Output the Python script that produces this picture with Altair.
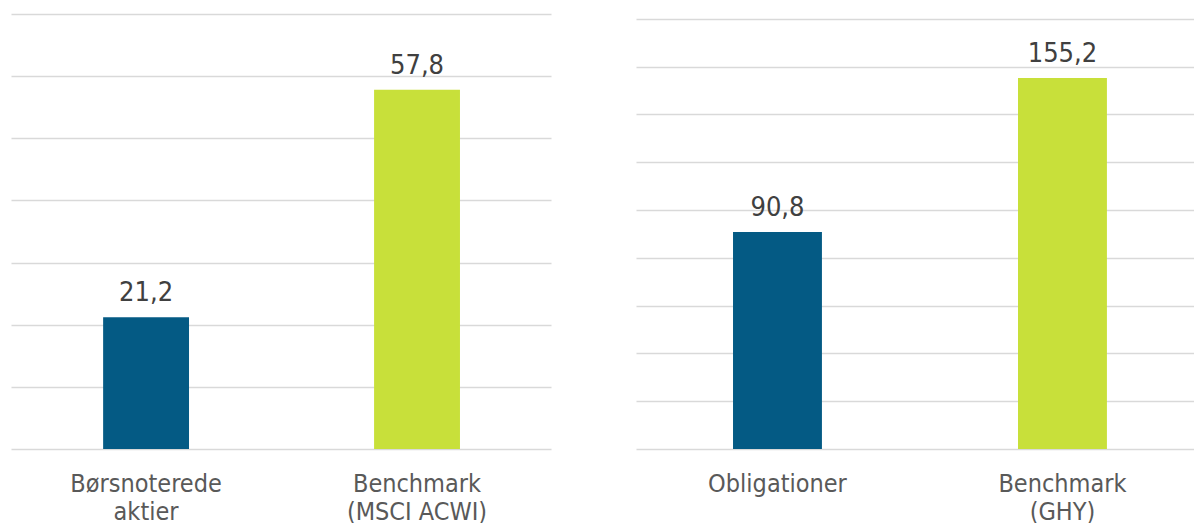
import altair as alt
import pandas as pd

left_categories = ["Børsnoterede\naktier", "Benchmark\n(MSCI ACWI)"]
left_values = [21.2, 57.8]
right_categories = ["Obligationer", "Benchmark\n(GHY)"]
right_values = [90.8, 155.2]
series = ["Portefølje", "Benchmark"]
colors = ["#045A84", "#C8E03A"]
left_ticks = list(range(0, 71, 10))
right_ticks = list(range(0, 181, 20))

FONT = "DejaVu Sans Condensed"


def panel(cats, vals, ymax, ticks, width, p_inner, p_outer, align):
    df = pd.DataFrame({
        "cat": cats,
        "val": vals,
        "series": series,
        "lab": [f"{v:.1f}".replace(".", ",") for v in vals],
    })
    x = alt.X(
        "cat:N", sort=cats, title=None,
        scale=alt.Scale(paddingInner=p_inner, paddingOuter=p_outer, align=align),
        axis=alt.Axis(
            labelExpr="split(datum.label, '\\n')", labelAngle=0,
            labelFontSize=25, labelColor="#595959", labelFont=FONT,
            labelLineHeight=28, labelPadding=22, labelLimit=400,
            ticks=False, domain=False, grid=False,
        ),
    )
    y = alt.Y(
        "val:Q", title=None,
        scale=alt.Scale(domain=[0, ymax], nice=False, zero=True),
        axis=alt.Axis(values=ticks, labels=False, ticks=False, domain=False,
                      grid=True, gridColor="#D9D9D9", gridWidth=1.5),
    )
    base = alt.Chart(df).encode(x=x, y=y)
    bars = base.mark_bar().encode(
        color=alt.Color("series:N", scale=alt.Scale(domain=series, range=colors), legend=None)
    )
    text = base.mark_text(baseline="bottom", dy=-10, fontSize=27, color="#404040", font=FONT).encode(
        text="lab:N"
    )
    return (bars + text).properties(width=width, height=435)


left = panel(left_categories, left_values, 70, left_ticks, 540, 0.683, 0.338, 0.503)
right = panel(right_categories, right_values, 182, right_ticks, 558, 0.688, 0.323, 0.527)

chart = alt.hconcat(left, right, spacing=85).properties(
    padding={"left": 11, "top": 14, "right": 0, "bottom": 0},
    background="white",
).configure_view(strokeWidth=0, stroke="transparent")

chart.save("out.html", embed_options={"renderer": "svg", "actions": False})
